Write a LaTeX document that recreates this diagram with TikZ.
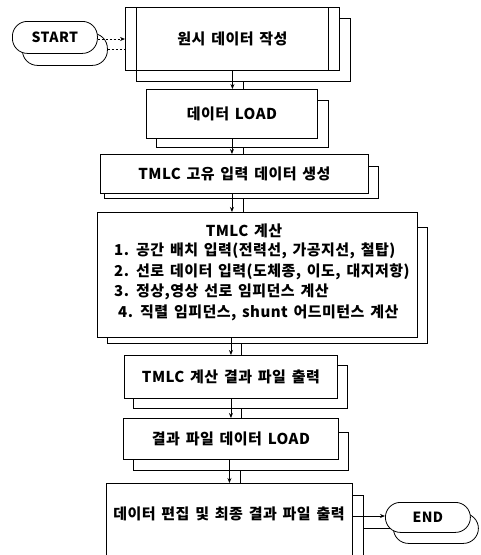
\documentclass[tikz,border=0pt]{standalone}
\usepackage{fontspec}
\setmainfont{Noto Sans CJK KR}[LetterSpace=3,WordSpace=1.5]
\usetikzlibrary{arrows.meta}
\begin{document}
\begin{tikzpicture}[x=1pt,y=-1pt,
  box/.style={draw, line width=0.9pt, fill=white, inner sep=0pt, anchor=north west},
  shadowbox/.style={draw, line width=0.9pt, fill=white, inner sep=0pt, anchor=north west},
  term/.style={draw, line width=0.8pt, fill=white, rounded corners=15pt, inner sep=0pt, anchor=north west},
  lbl/.style={font=\fontsize{15}{20.5}\selectfont\bfseries},
  tlbl/.style={font=\fontsize{14}{16}\selectfont\bfseries},
  arr/.style={line width=0.9pt, -{Stealth[length=5pt,width=4pt]}},
  ln/.style={line width=0.9pt},
  dln/.style={line width=0.8pt, dash pattern=on 2.5pt off 1.5pt}]
\useasboundingbox (0,0) rectangle (480,555);
\clip (0,0) rectangle (480,555);
\fill[white] (0,0) rectangle (480,555);

% START terminal
\node[term, minimum width=85pt, minimum height=32pt] (starts) at (22,33) {};
\node[term, minimum width=85pt, minimum height=32pt, tlbl] (start) at (12,21) {START};

% box 1
\node[shadowbox, minimum width=214pt, minimum height=63pt] (b1s) at (136,18) {};
\node[box, minimum width=214pt, minimum height=63pt, lbl] (b1) at (125,7) {원시 데이터 작성};
\draw[ln] ([xshift=11pt]b1.north west) -- ([xshift=11pt]b1.south west);
\draw[ln] ([xshift=-11pt]b1.north east) -- ([xshift=-11pt]b1.south east);

% box 2
\node[shadowbox, minimum width=172pt, minimum height=47pt] (b2s) at (156,100) {};
\node[box, minimum width=171pt, minimum height=49pt, lbl] (b2) at (146,89) {데이터 LOAD};

% box 3
\node[shadowbox, minimum width=274pt, minimum height=32pt] (b3s) at (104,166) {};
\node[box, minimum width=268pt, minimum height=39pt, lbl] (b3) at (100,154) {TMLC 고유 입력 데이터 생성};

% box 4
\node[shadowbox, minimum width=320pt, minimum height=116pt] (b4s) at (107,227) {};
\node[box, minimum width=320pt, minimum height=125pt] (b4) at (97,212) {};
\node[lbl] (t4) at (244,231) {TMLC 계산};
\node[lbl, anchor=north west, align=left, inner sep=0pt, font=\fontsize{15}{20.5}\selectfont\bfseries] (l4) at (114,243)
  {1. 공간 배치 입력(전력선, 가공지선, 철탑)\\
   2. 선로 데이터 입력(도체종, 이도, 대지저항)\\
   3. 정상,영상 선로 임피던스 계산\\
   \hspace*{4pt}4. 직렬 임피던스, shunt 어드미턴스 계산};

% box 5
\node[shadowbox, minimum width=214pt, minimum height=43pt] (b5s) at (133,365) {};
\node[box, minimum width=213pt, minimum height=43pt, lbl] (b5) at (124,355) {TMLC 계산 결과 파일 출력};

% box 6
\node[shadowbox, minimum width=215pt, minimum height=38pt] (b6s) at (133,432) {};
\node[box, minimum width=215pt, minimum height=41pt, lbl] (b6) at (123,418) {결과 파일 데이터 LOAD};

% box 7
\node[shadowbox, minimum width=246pt, minimum height=80pt] (b7s) at (117,495) {};
\node[box, minimum width=246pt, minimum height=80pt] (b7) at (106,483) {};
\node[lbl] (t7) at (229,514) {데이터 편집 및 최종 결과 파일 출력};

% END terminal
\draw[ln] (b7s.east |- 0,528) -- (393,528);
\node[term, minimum width=85pt, minimum height=30pt] (ends) at (393,513) {};
\node[term, minimum width=85pt, minimum height=30pt, tlbl] (end) at (385,502) {END};

% connectors
\draw[dln, -{Stealth[length=5pt,width=4pt]}] (start.east |- 0,39) -- (b1.west |- 0,39);
\draw[dln] (starts.east) -- (starts.east -| b1.west);

\draw[arr] (b1.south) -- (b1.south |- b2.north);
\draw[ln] ([xshift=11pt]b1.south |- b1s.south) -- ([xshift=11pt]b1.south |- b2.north);

\draw[arr] (b2.south) -- (b2.south |- b3.north);
\draw[ln] ([xshift=11pt]b2.south |- b2s.south) -- ([xshift=11pt]b2.south |- b3.north);

\draw[arr] (b2.south |- b3.south) -- (b2.south |- b4.north);
\draw[ln] ([xshift=11pt]b2.south |- b3s.south) -- ([xshift=11pt]b2.south |- b4.north);

\draw[arr] (b5.north |- b4.south) -- (b5.north);
\draw[ln] ([xshift=10pt]b5.north |- b4s.south) -- ([xshift=10pt]b5.north);

\draw[arr] (b5.south) -- (b5.south |- b6.north);
\draw[ln] ([xshift=10pt]b5.south |- b5s.south) -- ([xshift=10pt]b5.south |- b6.north);

\draw[arr] (b6.south -| b7.north) -- (b7.north);
\draw[ln] ([xshift=11pt]b7.north |- b6s.south) -- ([xshift=11pt]b7.north);

\draw[arr] (b7.east |- 0,516) -- (end.west |- 0,516);
\end{tikzpicture}
\end{document}
